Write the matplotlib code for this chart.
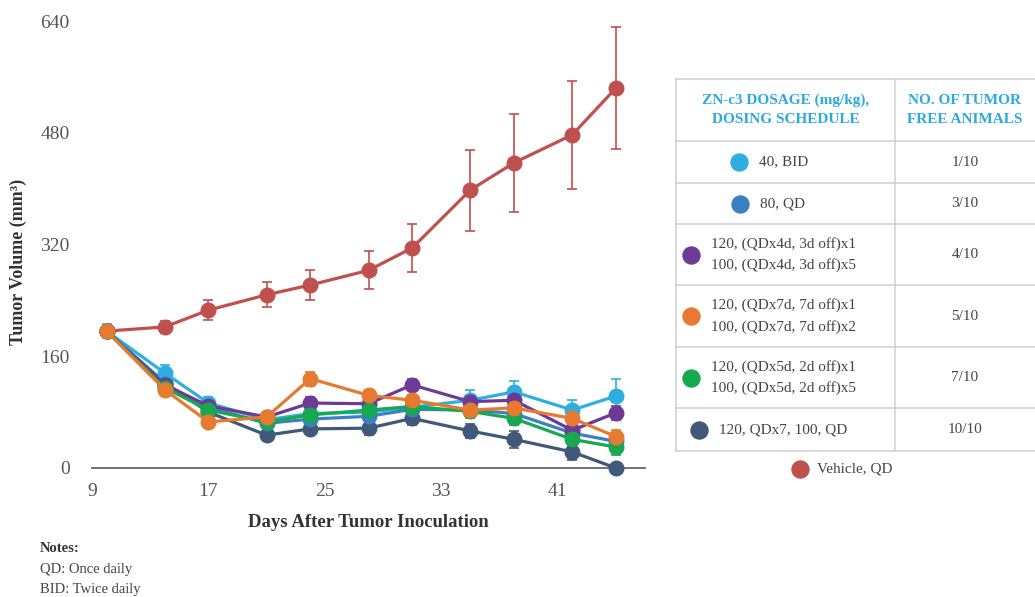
import matplotlib
matplotlib.use('Agg')
import matplotlib.pyplot as plt

plt.rcParams['font.family'] = ['Liberation Serif', 'DejaVu Serif']

# jours apres inoculation
days = [10, 14, 17, 21, 24, 28, 31, 35, 38, 42, 45]

vehicle = [196, 202, 226, 248, 262, 283, 315, 398, 437, 477, 544]
vehicle_err = [8, 8, 14, 18, 22, 27, 34, 58, 70, 77, 87]

bid40 = [196, 136, 93, 69, 78, 80, 87, 97, 109, 83, 103]
bid40_err = [10, 12, 8, 6, 8, 8, 8, 14, 16, 14, 24]

qd80 = [196, 120, 87, 64, 70, 74, 84, 83, 78, 50, 38]
qd80_err = [8, 8, 6, 5, 6, 6, 6, 8, 8, 8, 10]

sched_4d = [196, 119, 89, 73, 93, 92, 119, 95, 97, 54, 79]
sched_4d_err = [8, 8, 6, 5, 8, 6, 8, 8, 8, 8, 10]

sched_5d = [196, 115, 83, 66, 76, 83, 88, 81, 71, 41, 30]
sched_5d_err = [8, 8, 6, 5, 8, 8, 8, 10, 10, 10, 12]

sched_7d = [196, 112, 66, 73, 128, 104, 97, 83, 86, 71, 45]
sched_7d_err = [8, 8, 6, 5, 10, 8, 8, 8, 10, 8, 10]

qdx7 = [196, 122, 80, 47, 56, 57, 71, 53, 41, 23, 0]
qdx7_err = [8, 8, 6, 6, 8, 10, 10, 10, 12, 12, 6]

x_ticks = [9, 17, 25, 33, 41]
y_ticks = [0, 160, 320, 480, 640]

# tableau de droite
row_labels = ['40, BID', '80, QD',
              '120, (QDx4d, 3d off)x1\n100, (QDx4d, 3d off)x5',
              '120, (QDx7d, 7d off)x1\n100, (QDx7d, 7d off)x2',
              '120, (QDx5d, 2d off)x1\n100, (QDx5d, 2d off)x5',
              '120, QDx7, 100, QD']
tumor_free = ['1/10', '3/10', '4/10', '5/10', '7/10', '10/10']

c_red = '#C0504D'
c_lblue = '#2FAEE0'
c_blue = '#3A80C3'
c_purple = '#6D3A98'
c_orange = '#E57A30'
c_green = '#18A84F'
c_navy = '#40587A'
row_colors = [c_lblue, c_blue, c_purple, c_orange, c_green, c_navy]

fig = plt.figure(figsize=(10.35, 5.97), dpi=100)
ax = fig.add_axes([92 / 1035, 1 - 468 / 597, 553 / 1035, 447 / 597])

# ordre de dessin : le orange passe au-dessus
series = [
    (vehicle, vehicle_err, c_red),
    (qdx7, qdx7_err, c_navy),
    (bid40, bid40_err, c_lblue),
    (qd80, qd80_err, c_blue),
    (sched_4d, sched_4d_err, c_purple),
    (sched_5d, sched_5d_err, c_green),
    (sched_7d, sched_7d_err, c_orange),
]
for vals, err, col in series:
    ax.errorbar(days, vals, yerr=err, color=col, marker='o', markersize=10.5,
                linewidth=2.3, elinewidth=1.2, capsize=3.5, capthick=1.2,
                ecolor=col, clip_on=False, zorder=3)

ax.set_xlim(9, 47)
ax.set_ylim(0, 640)
ax.set_xticks(x_ticks)
ax.set_yticks(y_ticks)
ax.tick_params(axis='both', length=0, labelsize=14, labelcolor='#555555')
ax.tick_params(axis='x', pad=11)
ax.tick_params(axis='y', pad=16)
for s in ['top', 'right', 'left']:
    ax.spines[s].set_visible(False)
ax.spines['bottom'].set_color('#666666')
ax.spines['bottom'].set_linewidth(1.3)

ax.set_xlabel('Days After Tumor Inoculation', fontsize=13.5, fontweight='bold',
              color='#333333', labelpad=10)
fig.text(18 / 1035, 1 - 262 / 597, 'Tumor Volume (mm³)', rotation=90, fontsize=13,
         fontweight='bold', color='#333333', ha='center', va='center')

fig.text(40 / 1035, 1 - 549 / 597, 'Notes:', fontsize=10.5, fontweight='bold',
         color='#333333', va='center')
fig.text(40 / 1035, 1 - 570 / 597, 'QD: Once daily', fontsize=10.5, color='#444444', va='center')
fig.text(40 / 1035, 1 - 589 / 597, 'BID: Twice daily', fontsize=10.5, color='#444444', va='center')

# tableau, en coordonnees pixel
tab = fig.add_axes([0, 0, 1, 1], facecolor='none')
tab.set_xlim(0, 1035)
tab.set_ylim(597, 0)
tab.axis('off')

left, mid, right = 676, 895, 1040
row_edges = [79, 141, 183, 224, 285, 347, 408, 451]
grid_col = '#CFCFCF'
for y in row_edges:
    tab.plot([left, right], [y, y], color=grid_col, lw=1.1, clip_on=False)
tab.plot([left, left], [row_edges[0], row_edges[-1]], color=grid_col, lw=1.1)
tab.plot([mid, mid], [row_edges[0], row_edges[-1]], color=grid_col, lw=1.1)

head_col = '#2EA9DF'
hy = (row_edges[0] + row_edges[1]) / 2
tab.text((left + mid) / 2, hy, 'ZN-c3 DOSAGE (mg/kg),\nDOSING SCHEDULE', ha='center',
         va='center', fontsize=11, fontweight='bold', color=head_col, linespacing=1.65)
tab.text(965, hy, 'NO. OF TUMOR\nFREE ANIMALS', ha='center', va='center', fontsize=11,
         fontweight='bold', color=head_col, linespacing=1.65)

dot_x = [739, 740, 691, 691, 691, 699]
for i, (lab, n, col) in enumerate(zip(row_labels, tumor_free, row_colors)):
    cy = (row_edges[i + 1] + row_edges[i + 2]) / 2
    tab.scatter([dot_x[i]], [cy], s=150, color=col, zorder=3)
    tab.text(dot_x[i] + 20, cy, lab, ha='left', va='center', fontsize=11,
             color='#444444', linespacing=1.7)
    tab.text(965, cy, n, ha='center', va='center', fontsize=11, color='#444444')

tab.scatter([800], [469], s=150, color=c_red, zorder=3)
tab.text(817, 469, 'Vehicle, QD', ha='left', va='center', fontsize=11, color='#444444')

fig.savefig('out.png', dpi=100)
